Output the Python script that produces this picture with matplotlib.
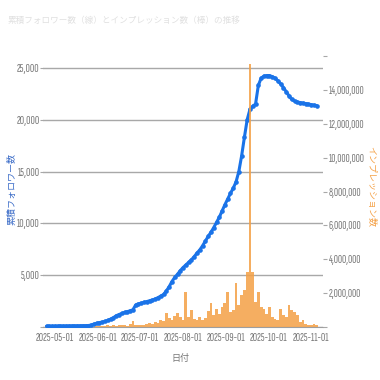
import matplotlib
matplotlib.use('Agg')
import matplotlib.pyplot as plt
import matplotlib.dates as mdates
from matplotlib.ticker import FuncFormatter, MultipleLocator
import pandas as pd

# 累積フォロワー数 (2日ごと, 2025-04-25 〜)
follower_dates = pd.date_range('2025-04-25', periods=98, freq='2D')
followers = [
    100, 100, 100, 110, 110, 120, 120, 120, 130, 130,
    130, 140, 140, 150, 150, 160, 200, 300, 380, 440,
    500, 560, 650, 780, 920, 1100, 1220, 1320, 1420, 1500,
    1580, 1680, 2150, 2250, 2320, 2400, 2470, 2550, 2620, 2720,
    2850, 3000, 3150, 3500, 3900, 4400, 4800, 5100, 5450, 5750,
    6000, 6250, 6500, 6800, 7150, 7450, 7850, 8300, 8750, 9150,
    9600, 10100, 10600, 11200, 11800, 12350, 12900, 13400, 14000, 15000,
    16500, 18300, 20000, 21000, 21300, 21500, 23300, 24000, 24200, 24250,
    24250, 24150, 24000, 23750, 23450, 23100, 22700, 22300, 21950, 21800,
    21700, 21650, 21600, 21550, 21500, 21450, 21400, 21350,
]

# インプレッション数 (2日ごと, 2025-05-27 〜)
imp_dates = pd.date_range('2025-05-27', periods=82, freq='2D')
impressions = [
    20000, 40000, 60000, 50000, 80000, 60000, 100000, 70000, 120000, 90000,
    150000, 100000, 130000, 90000, 200000, 370000, 150000, 120000, 100000, 150000,
    200000, 250000, 180000, 300000, 250000, 400000, 350000, 830000, 550000, 450000,
    650000, 830000, 600000, 450000, 2070000, 615000, 1000000, 500000, 420000, 580000,
    450000, 520000, 950000, 1400000, 700000, 1100000, 800000, 1200000, 1400000, 2070000,
    900000, 1000000, 2600000, 1300000, 1900000, 2200000, 3270000, 15500000, 3270000, 1500000,
    2070000, 1200000, 1100000, 800000, 1200000, 600000, 500000, 400000, 1100000, 700000,
    600000, 1300000, 1000000, 900000, 700000, 300000, 400000, 200000, 100000, 150000,
    200000, 100000,
]

title = '累積フォロワー数（線）とインプレッション数（棒）の推移'
xlabel = '日付'
ylabel_left = '累積フォロワー数'
ylabel_right = 'インプレッション数'

BLUE = '#1a73e8'
ORANGE = '#f4a045'
GRAY = '#767676'
NUM_FONT = ['Sofia Sans Extra Condensed', 'Roboto Condensed', 'DejaVu Sans']
JP_FONT = ['Noto Sans CJK JP', 'DejaVu Sans']

plt.rcParams['font.family'] = NUM_FONT

fig = plt.figure(figsize=(3.8, 3.8), dpi=100)
ax = fig.add_axes([0.113, 0.139, 0.737, 0.714])
ax2 = ax.twinx()

ax.plot(follower_dates, followers, color=BLUE, lw=2.2, marker='o', ms=2.3,
        mec=BLUE, mfc=BLUE, solid_capstyle='round', zorder=3)
ax2.bar(imp_dates, impressions, width=2, color=ORANGE, alpha=0.85, linewidth=0)

ax.set_xlim(pd.Timestamp('2025-04-22 10:00'), pd.Timestamp('2025-11-09 10:00'))
ax.set_ylim(0, 26150)
ax2.set_ylim(0, 16000000)

ax.yaxis.set_major_locator(MultipleLocator(5000))
ax.yaxis.set_major_formatter(FuncFormatter(lambda v, p: '' if v == 0 else f'{int(v):,}'))
ax2.yaxis.set_major_locator(MultipleLocator(2000000))
ax2.yaxis.set_major_formatter(FuncFormatter(
    lambda v, p: '' if v <= 0 or v >= 16000000 else f'{int(v):,}'))

ax.xaxis.set_major_locator(mdates.MonthLocator())
ax.xaxis.set_major_formatter(mdates.DateFormatter('%Y-%m-%d'))

ax.grid(axis='y', color='#a8a8a8', lw=1)
ax.set_axisbelow(True)
for a in (ax, ax2):
    for s in ('top', 'left', 'right'):
        a.spines[s].set_visible(False)
ax.spines['bottom'].set_color('#9e9e9e')
ax2.spines['bottom'].set_visible(False)

ax.tick_params(axis='x', length=0, labelsize=8.5, labelcolor=GRAY, pad=4)
ax.tick_params(axis='y', length=2, color='#a8a8a8', labelsize=8.5, labelcolor=GRAY, pad=0.5)
ax2.tick_params(axis='y', length=3, color='#a8a8a8', labelsize=8.2, labelcolor=GRAY, pad=1)

ax.set_xlabel(xlabel, fontsize=6.5, color=GRAY, family=JP_FONT)
ax.xaxis.label.set_va('center')
ax.xaxis.set_label_coords(0.49, -0.114)
ax.set_ylabel(ylabel_left, fontsize=6.5, color='#3b6cc8', family=JP_FONT)
ax.yaxis.label.set_va('center')
ax.yaxis.set_label_coords(-0.111, 0.51)
ax2.set_ylabel(ylabel_right, fontsize=6.5, color=ORANGE, family=JP_FONT, rotation=270)
ax2.yaxis.label.set_va('center')
ax2.yaxis.set_label_coords(1.17, 0.52)

fig.text(0.02, 1 - 20 / 380, title, fontsize=6.2, color='#e0e0e0',
         family=JP_FONT, va='center', ha='left')

fig.savefig('out.png', dpi=100)
